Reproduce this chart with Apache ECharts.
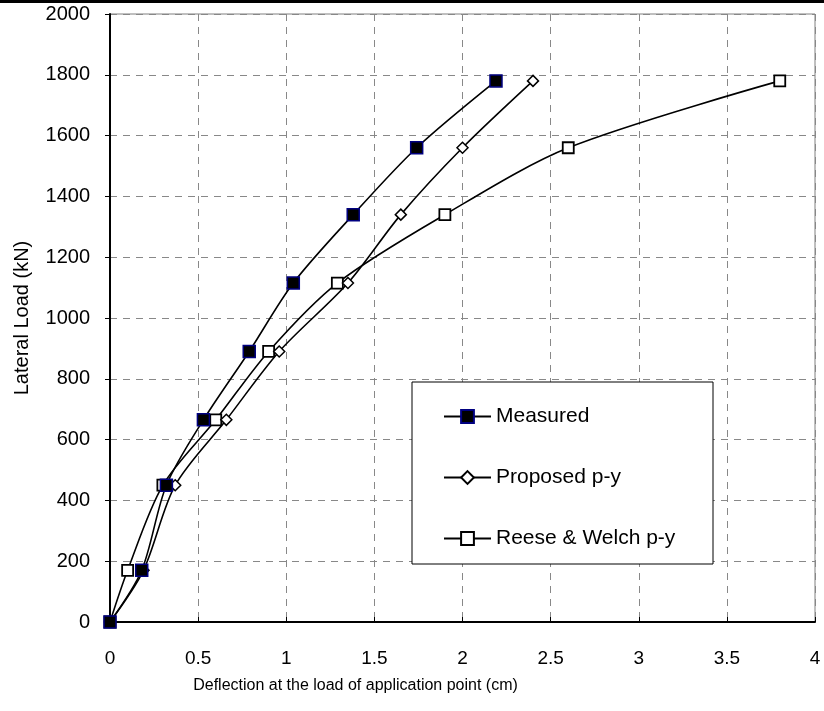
<!DOCTYPE html>
<html lang="en">
<head>
    <meta charset="UTF-8">
    <title>Lateral load vs deflection</title>
    <script src="https://cdn.jsdelivr.net/npm/echarts@6/dist/echarts.min.js"></script>
    <style>
        body { margin: 0; background: #fff; }
        #graph { width: 824px; height: 711px; }
    </style>
</head>
<body>
    <div id="graph"></div>

    <script>
        // lateral loads (kN), same for all three curves
        var loads = [0, 170, 450, 665, 890, 1115, 1340, 1560, 1780];
        // deflections (cm)
        var measured = [0, 0.18, 0.32, 0.53, 0.79, 1.04, 1.38, 1.74, 2.19];
        var proposed = [0, 0.19, 0.37, 0.66, 0.96, 1.35, 1.65, 2.0, 2.4];
        var reese = [0, 0.10, 0.30, 0.60, 0.90, 1.29, 1.90, 2.60, 3.80];
        var names = ['Measured', 'Proposed p-y', 'Reese & Welch p-y'];

        function pairs(xs) {
            var out = [];
            for (var i = 0; i < xs.length; i++) out.push([xs[i], loads[i]]);
            return out;
        }

        var font = '"Liberation Sans", Arial, sans-serif';
        var myChart = echarts.init(document.getElementById('graph'));

        var option = {
            animation: false,
            backgroundColor: '#fff',
            grid: {
                left: 110, right: 9, top: 14, bottom: 89,
                show: true, borderColor: '#808080', borderWidth: 1
            },
            xAxis: {
                type: 'value', min: 0, max: 4, interval: 0.5,
                name: 'Deflection at the load of application point (cm)',
                nameLocation: 'middle', nameGap: 56,
                // the name sits left of centre in the original
                nameTextStyle: { fontFamily: font, fontSize: 16, color: '#000', padding: [0, 214, 0, 0] },
                axisLine: { lineStyle: { color: '#000', width: 2 } },
                axisTick: { inside: true, length: 5, lineStyle: { color: '#000' } },
                axisLabel: { fontFamily: font, fontSize: 19, color: '#000', margin: 27 },
                splitLine: { lineStyle: { color: '#888', type: [7, 6] } }
            },
            yAxis: {
                type: 'value', min: 0, max: 2000, interval: 200,
                name: 'Lateral Load (kN)',
                nameLocation: 'middle', nameGap: 78,
                nameTextStyle: { fontFamily: font, fontSize: 20, color: '#000' },
                axisLine: { show: true, lineStyle: { color: '#000', width: 2 } },
                axisTick: { show: true, length: 5, lineStyle: { color: '#000' } },
                axisLabel: {
                    fontFamily: font, fontSize: 20, color: '#000', margin: 20,
                    formatter: function (v) { return String(v); }
                },
                splitLine: { lineStyle: { color: '#888', type: [7, 6] } }
            },
            legend: {
                data: names,
                orient: 'vertical',
                left: 443, top: 406, padding: 0,
                itemWidth: 47, itemHeight: 16, itemGap: 40,
                textStyle: { fontFamily: font, fontSize: 21, color: '#000' }
            },
            graphic: [
                {
                    type: 'rect', z: 1,
                    shape: { x: 412, y: 382, width: 301, height: 182 },
                    style: { fill: '#fff', stroke: '#000', lineWidth: 1 }
                },
                {
                    type: 'rect', z: 10,
                    shape: { x: 0, y: 0, width: 824, height: 3 },
                    style: { fill: '#000' }
                }
            ],
            series: [
                {
                    name: names[0], type: 'line', z: 5,
                    data: pairs(measured), smooth: 0.3,
                    symbol: 'rect', symbolSize: 12,
                    itemStyle: { color: '#000', borderColor: '#000080', borderWidth: 1.5 },
                    lineStyle: { color: '#000', width: 1.6 }
                },
                {
                    name: names[1], type: 'line', z: 4,
                    data: pairs(proposed), smooth: 0.3,
                    symbol: 'diamond', symbolSize: 11,
                    itemStyle: { color: '#fff', borderColor: '#000', borderWidth: 1.5 },
                    lineStyle: { color: '#000', width: 1.6 }
                },
                {
                    name: names[2], type: 'line', z: 3,
                    data: pairs(reese), smooth: 0.3,
                    symbol: 'rect', symbolSize: 11,
                    itemStyle: { color: '#fff', borderColor: '#000', borderWidth: 1.8 },
                    lineStyle: { color: '#000', width: 1.6 }
                }
            ]
        };
        myChart.setOption(option);
    </script>
</body>
</html>
